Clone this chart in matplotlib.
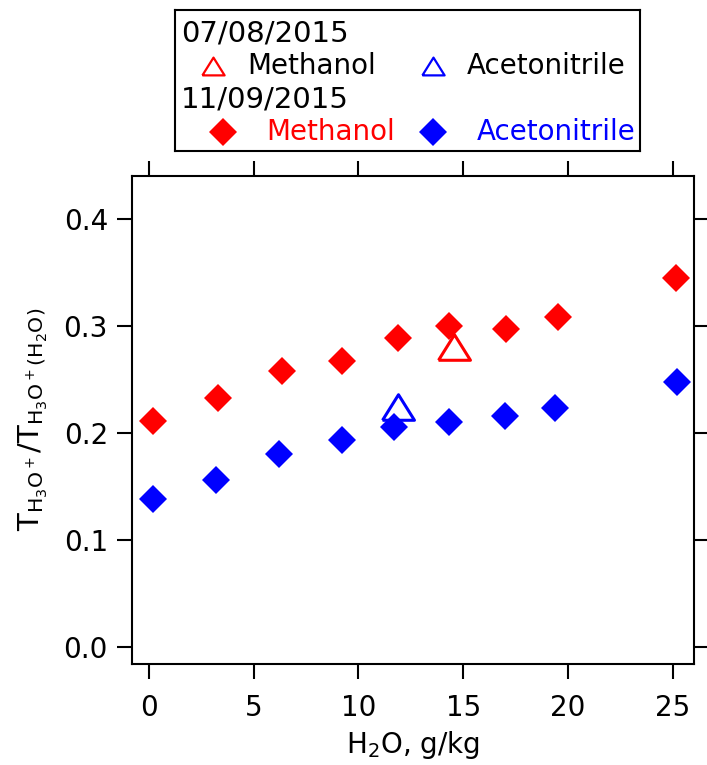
import numpy as np
import matplotlib
matplotlib.use("Agg")
from matplotlib import pyplot as plt

# 11/09/2015 campaign (filled diamonds)
meoh_x = [0.19, 3.32, 6.34, 9.2, 11.9, 14.31, 17.05, 19.52, 25.12]
meoh_y = [0.2115, 0.2333, 0.2582, 0.2679, 0.2894, 0.3006, 0.2975, 0.3084, 0.3449]
acn_x = [0.19, 3.21, 6.22, 9.2, 11.69, 14.31, 17.0, 19.37, 25.2]
acn_y = [0.1389, 0.1564, 0.1804, 0.1937, 0.2060, 0.2103, 0.2165, 0.2234, 0.2482]

# 07/08/2015 campaign (open triangles)
meoh_x_old = [14.55]
meoh_y_old = [0.281]
acn_x_old = [11.9]
acn_y_old = [0.2243]

xticks = [0, 5, 10, 15, 20, 25]
yticks = [0.0, 0.1, 0.2, 0.3, 0.4]

plt.rcParams['font.family'] = ['DejaVu Sans']
plt.rcParams['mathtext.default'] = 'regular'

W, H = 707, 765
fig = plt.figure(figsize=(W / 100, H / 100), dpi=100)
ax = fig.add_axes([132.3 / W, 1 - 664 / H, (694 - 132.3) / W, (664 - 175.7) / H])

# open triangle, a bit wider than tall (closed path)
tri = [(-1.25, -1), (1.25, -1), (0, 1), (-1.25, -1)]

ax.plot(meoh_x, meoh_y, ls='none', marker='D', ms=14.3, mew=0, color='red')
ax.plot(acn_x, acn_y, ls='none', marker='D', ms=14.3, mew=0, color='blue')
ax.plot(meoh_x_old, meoh_y_old, ls='none', marker=tri, ms=23, mew=2.2,
        mfc='none', mec='red')
ax.plot(acn_x_old, acn_y_old, ls='none', marker=tri, ms=23, mew=2.2,
        mfc='none', mec='blue')

ax.set_xlim(-0.78, 26.0)
ax.set_ylim(-0.0156, 0.4407)
ax.set_xticks(xticks)
ax.set_yticks(yticks)
ax.set_xticklabels([str(t) for t in xticks])
ax.set_yticklabels(['%.1f' % t for t in yticks])

for s in ax.spines.values():
    s.set_linewidth(1.5)
ax.tick_params(direction='out', length=10.5, width=1.5, labelsize=20,
               top=True, right=True)
ax.tick_params(axis='x', pad=11)
ax.tick_params(axis='y', pad=7)

ax.set_xlabel('H$_2$O, g/kg', fontsize=20, labelpad=5)
ax.set_ylabel(r'T$_{H_3O^+}$/T$_{H_3O^+(H_2O)}$', fontsize=21, labelpad=10)

# hand-built legend box above the plot
L, R, T, B = 175, 640, 10, 150.7
lg = fig.add_axes([L / W, 1 - B / H, (R - L) / W, (B - T) / H])
lg.set_xlim(L, R)
lg.set_ylim(B, T)
lg.set_xticks([])
lg.set_yticks([])
for s in lg.spines.values():
    s.set_linewidth(1.5)

fs = 20
lg.text(181, 34, '07/08/2015', fontsize=21, va='center')
lg.plot([213], [66], marker=tri, ms=16, mew=1.6, mfc='none', mec='red')
lg.text(247, 66, 'Methanol', fontsize=fs, va='center')
lg.plot([433], [66], marker=tri, ms=16, mew=1.6, mfc='none', mec='blue')
lg.text(467, 66, 'Acetonitrile', fontsize=fs, va='center')
lg.text(181, 99, '11/09/2015', fontsize=21, va='center')
lg.plot([223], [132], marker='D', ms=14.3, mew=0, color='red')
lg.text(266, 132, 'Methanol', fontsize=fs, va='center', color='red')
lg.plot([433], [132], marker='D', ms=14.3, mew=0, color='blue')
lg.text(477, 132, 'Acetonitrile', fontsize=fs, va='center', color='blue')

fig.savefig('out.png', dpi=100)
